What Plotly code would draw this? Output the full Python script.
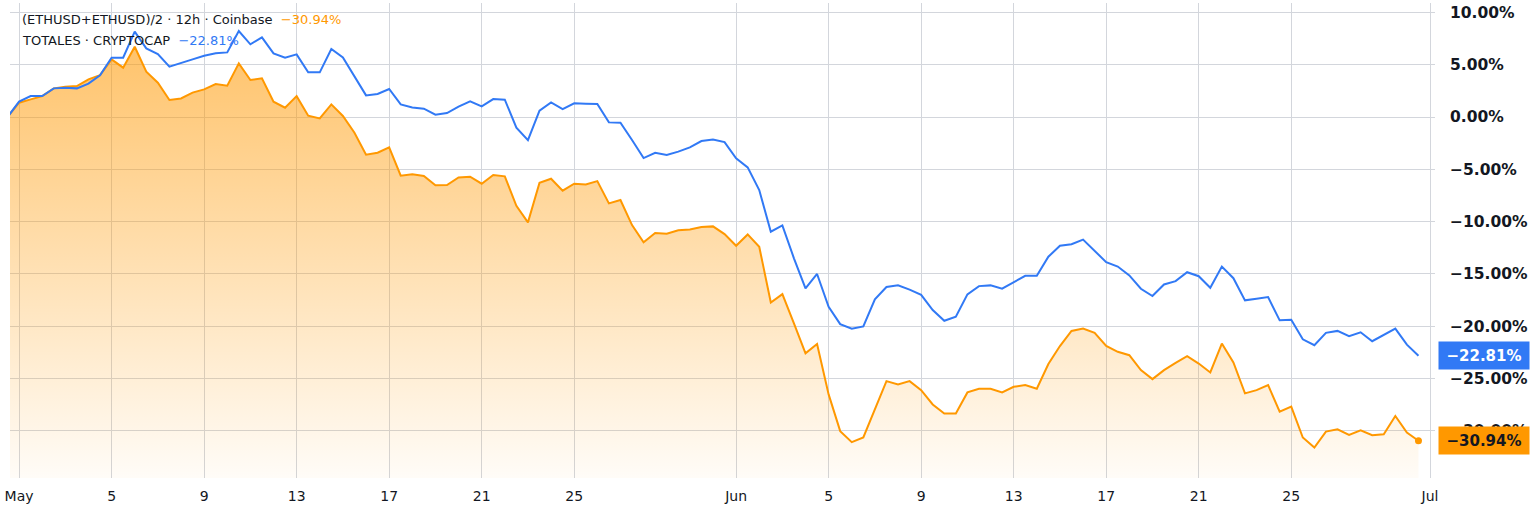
import pandas as pd
import plotly.graph_objects as go

# ---------------- data (percent change, 12h bars) ----------------
START = "2022-04-30 12:00"

eth_pct = [
    0.0, 1.37, 1.69, 2.0, 2.74, 2.9, 2.96, 3.6, 4.0, 5.51,
    4.72, 6.72, 4.33, 3.28, 1.63, 1.78, 2.33, 2.64, 3.15, 3.0,
    5.13, 3.54, 3.7, 1.47, 0.89, 2.0, 0.13, -0.13, 1.21, 0.1,
    -1.5, -3.6, -3.41, -2.9, -5.61, -5.48, -5.64, -6.53, -6.5, -5.77,
    -5.7, -6.37, -5.54, -5.67, -8.48, -10.07, -6.28, -5.9, -7.04, -6.37,
    -6.44, -6.12, -8.25, -7.93, -10.33, -11.98, -11.09, -11.15, -10.83, -10.74,
    -10.52, -10.45, -11.19, -12.3, -11.22, -12.4, -17.72, -16.92, -19.73, -22.59,
    -21.7, -26.51, -30.02, -31.07, -30.62, -27.85, -25.24, -25.56, -25.24, -26.1,
    -27.47, -28.33, -28.33, -26.32, -25.97, -25.97, -26.32, -25.78, -25.62, -25.97,
    -23.61, -21.89, -20.45, -20.22, -20.63, -21.87, -22.44, -22.76, -24.19, -25.05,
    -24.19, -23.49, -22.86, -23.56, -24.41, -21.65, -23.46, -26.41, -26.1, -25.62,
    -28.16, -27.68, -30.63, -31.59, -30.06, -29.84, -30.38, -29.94, -30.41, -30.32,
    -28.57, -30.16, -30.94,
]

total_pct = [
    0.0, 1.47, 2.0, 2.0, 2.74, 2.8, 2.74, 3.2, 4.0, 5.67,
    5.67, 8.16, 6.56, 6.02, 4.81, 5.13, 5.51, 5.86, 6.09, 6.18,
    8.22, 6.95, 7.62, 6.09, 5.67, 5.99, 4.27, 4.27, 6.5, 5.7,
    3.86, 2.07, 2.2, 2.68, 1.21, 0.92, 0.8, 0.22, 0.38, 0.99,
    1.5, 1.02, 1.72, 1.66, -1.02, -2.2, 0.61, 1.4, 0.76, 1.31,
    1.27, 1.24, -0.51, -0.54, -2.2, -3.92, -3.41, -3.63, -3.31, -2.9,
    -2.29, -2.14, -2.4, -3.95, -4.81, -6.98, -10.96, -10.36, -13.5, -16.38,
    -15.0, -18.13, -19.79, -20.24, -20.01, -17.43, -16.25, -16.09, -16.5, -16.99,
    -18.45, -19.47, -19.09, -16.95, -16.16, -16.09, -16.41, -15.77, -15.17, -15.17,
    -13.35, -12.3, -12.15, -11.71, -12.76, -13.87, -14.29, -15.14, -16.41, -17.11,
    -16.0, -15.68, -14.83, -15.21, -16.32, -14.29, -15.4, -17.52, -17.37, -17.21,
    -19.43, -19.37, -21.24, -21.81, -20.63, -20.44, -20.95, -20.57, -21.43, -20.86,
    -20.22, -21.75, -22.81,
]

x_tick_dates = [
    "2022-05-01", "2022-05-05", "2022-05-09", "2022-05-13", "2022-05-17",
    "2022-05-21", "2022-05-25", "2022-06-01", "2022-06-05", "2022-06-09",
    "2022-06-13", "2022-06-17", "2022-06-21", "2022-06-25", "2022-07-01",
]
x_tick_text = ["May", "5", "9", "13", "17", "21", "25", "Jun",
               "5", "9", "13", "17", "21", "25", "Jul"]

y_tick_vals = [10, 5, 0, -5, -10, -15, -20, -25, -30]
y_tick_text = ["10.00%", "5.00%", "0.00%", "\u22125.00%", "\u221210.00%",
               "\u221215.00%", "\u221220.00%", "\u221225.00%", "\u221230.00%"]

eth_name = "(ETHUSD+ETHUSD)/2 \u00b7 12h \u00b7 Coinbase"
total_name = "TOTALES \u00b7 CRYPTOCAP"

# ---------------- style ----------------
ORANGE = "#FF9800"
BLUE = "#3179F5"
TEXT = "#131722"
GRID = "#d3d6dc"
FONT = "DejaVu Sans"
Y_MIN, Y_MAX = -34.5, 10.9
X_RANGE = ["2022-04-30 14:35", "2022-07-01 05:10"]

W, H = 1536, 525
ML, MR, MT, MB = 10, 101, 3, 47
PW = W - ML - MR
PH = H - MT - MB


def fmt(v):
    s = f"{abs(v):.2f}%"
    return ("\u2212" + s) if v < 0 else s


dates = pd.date_range(START, periods=len(eth_pct), freq="12h")

fig = go.Figure()

# baseline at the bottom of the pane for the area fill
fig.add_trace(go.Scatter(
    x=dates, y=[Y_MIN] * len(dates), mode="lines",
    line=dict(width=0, color="rgba(0,0,0,0)"),
    hoverinfo="skip", showlegend=False,
))
fig.add_trace(go.Scatter(
    x=dates, y=eth_pct, mode="lines", name=eth_name,
    line=dict(color=ORANGE, width=2),
    fill="tonexty",
    fillgradient=dict(
        type="vertical",
        colorscale=[[0, "rgba(255,152,0,0.03)"], [1, "rgba(255,152,0,0.58)"]],
        start=Y_MIN, stop=max(eth_pct),
    ),
    showlegend=False,
))
fig.add_trace(go.Scatter(
    x=dates, y=total_pct, mode="lines", name=total_name,
    line=dict(color=BLUE, width=2), showlegend=False,
))
fig.add_trace(go.Scatter(
    x=[dates[-1]], y=[eth_pct[-1]], mode="markers",
    marker=dict(color=ORANGE, size=7), showlegend=False, hoverinfo="skip",
))

fig.update_layout(
    width=W, height=H,
    margin=dict(l=ML, r=MR, t=MT, b=MB, autoexpand=False),
    paper_bgcolor="white", plot_bgcolor="white",
    font=dict(family=FONT, color=TEXT),
    showlegend=False,
    xaxis=dict(
        type="date", range=X_RANGE,
        tickmode="array", tickvals=x_tick_dates, ticktext=x_tick_text,
        showgrid=True, gridcolor=GRID, gridwidth=1,
        zeroline=False, showline=False, ticks="",
        tickfont=dict(family=FONT, size=14, color=TEXT),
        ticklabelstandoff=8, automargin=False,
    ),
    yaxis=dict(
        side="right", range=[Y_MIN, Y_MAX],
        tickmode="array", tickvals=y_tick_vals, ticktext=y_tick_text,
        showgrid=True, gridcolor=GRID, gridwidth=1,
        zeroline=False, showline=False, ticks="",
        tickfont=dict(family=FONT, size=15.5, color=TEXT, weight="bold"),
        ticklabelstandoff=14, automargin=False,
    ),
)

# last-value labels on the price scale
box_x = (1438 - ML) / PW
for val, bg, fg in [(total_pct[-1], BLUE, "white"), (eth_pct[-1], ORANGE, TEXT)]:
    fig.add_annotation(
        xref="paper", x=box_x, xanchor="left",
        yref="y", y=val, yanchor="middle",
        text=fmt(val), showarrow=False,
        bgcolor=bg, borderpad=3, width=84, height=21,
        font=dict(family=FONT, size=15, color=fg, weight="bold"),
    )

# legend lines at top-left
for line_y, name, val, col in [(20, eth_name, eth_pct[-1], ORANGE),
                               (41, total_name, total_pct[-1], BLUE)]:
    fig.add_annotation(
        xref="paper", x=(20 - ML) / PW, xanchor="left",
        yref="paper", y=(H - MB - line_y) / PH, yanchor="middle",
        text=f'{name}\u00a0\u00a0<span style="color:{col}">{fmt(val)}</span>',
        showarrow=False, align="left",
        font=dict(family=FONT, size=13, color=TEXT),
    )

fig.write_html(
    "out.html",
    config={"displayModeBar": False},
    post_script="document.body.style.margin='0';document.body.style.overflow='hidden';",
)
